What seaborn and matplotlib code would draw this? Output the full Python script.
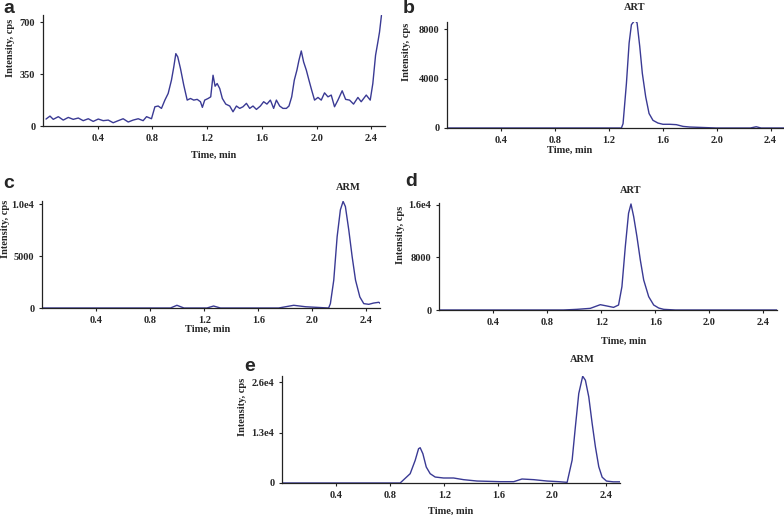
import matplotlib
matplotlib.use("Agg")
import matplotlib.pyplot as plt
import numpy as np
import pandas as pd
import seaborn as sns

# panel a - blank, noisy trace (time in min, intensity in cps)
a_time = [0.022, 0.051, 0.075, 0.112, 0.148, 0.185, 0.221, 0.258, 0.294, 0.331,
          0.367, 0.404, 0.440, 0.477, 0.513, 0.550, 0.586, 0.623, 0.659, 0.696,
          0.732, 0.757, 0.793, 0.818, 0.842, 0.866, 0.891, 0.915, 0.939, 0.956,
          0.971, 0.985, 1.005, 1.029, 1.054, 1.078, 1.102, 1.127, 1.151, 1.165,
          1.182, 1.207, 1.226, 1.243, 1.258, 1.273, 1.292, 1.311, 1.336, 1.365,
          1.389, 1.414, 1.438, 1.462, 1.487, 1.511, 1.535, 1.560, 1.589, 1.613,
          1.637, 1.662, 1.686, 1.706, 1.730, 1.754, 1.779, 1.798, 1.818, 1.837,
          1.856, 1.871, 1.888, 1.905, 1.925, 1.944, 1.964, 1.985, 2.010, 2.034,
          2.058, 2.083, 2.107, 2.131, 2.156, 2.187, 2.212, 2.241, 2.270, 2.302,
          2.326, 2.363, 2.392, 2.411, 2.431, 2.448, 2.460, 2.474]
a_int = [47, 67, 45, 63, 40, 58, 45, 54, 36, 49,
         31, 47, 36, 40, 22, 36, 49, 27, 40, 49,
         36, 63, 49, 130, 135, 119, 175, 220, 310, 399,
         489, 467, 388, 276, 175, 186, 175, 180, 164, 126,
         175, 186, 197, 343, 269, 287, 253, 186, 148, 135,
         96, 135, 119, 130, 153, 119, 135, 112, 135, 164,
         148, 175, 119, 175, 135, 119, 119, 135, 197, 310,
         377, 444, 507, 433, 377, 310, 242, 175, 193, 175,
         224, 197, 209, 130, 175, 238, 180, 175, 148, 193,
         164, 209, 175, 287, 478, 568, 635, 747]

# panel b - ART
b_time = [0.0, 0.4, 0.8, 1.2, 1.294, 1.306, 1.331, 1.351, 1.368, 1.393, 1.410,
          1.430, 1.449, 1.474, 1.499, 1.528, 1.565, 1.602, 1.652, 1.701, 1.751,
          1.800, 2.0, 2.25, 2.294, 2.33, 2.5]
b_int = [0, 0, 0, 0, 0, 350, 3600, 6860, 8350, 8700, 8500,
         6580, 4420, 2520, 1170, 620, 400, 300, 300, 270, 130,
         80, 0, 0, 100, 0, 0]

# panel c - ARM
c_time = [0.0, 0.4, 0.8, 0.95, 0.998, 1.05, 1.22, 1.269, 1.32, 1.75, 1.862,
          1.95, 2.12, 2.133, 2.158, 2.183, 2.207, 2.227, 2.244, 2.269, 2.294,
          2.319, 2.351, 2.380, 2.417, 2.454, 2.491, 2.504]
c_int = [0, 0, 0, 0, 260, 0, 0, 190, 0, 0, 260,
         120, 0, 420, 2680, 6870, 9450, 10260, 9770, 7520, 4940,
         2680, 1060, 420, 355, 480, 550, 420]

# panel d - ART
d_time = [0.0, 0.5, 0.92, 1.02, 1.119, 1.193, 1.242, 1.291, 1.328, 1.353, 1.378,
          1.402, 1.420, 1.440, 1.464, 1.489, 1.514, 1.551, 1.588, 1.625, 1.662,
          1.75, 2.2, 2.5]
d_int = [0, 0, 0, 100, 250, 810, 610, 400, 760, 3560, 9650,
         14730, 16150, 14220, 11180, 7620, 4570, 2030, 760, 300, 100,
         0, 0, 0]

# panel e - ART + ARM
e_time = [0.0, 0.4, 0.874, 0.948, 0.985, 1.010, 1.022, 1.042, 1.067, 1.096, 1.133,
          1.195, 1.269, 1.343, 1.442, 1.615, 1.714, 1.775, 1.862, 1.960, 2.047,
          2.109, 2.146, 2.170, 2.195, 2.224, 2.244, 2.269, 2.294, 2.318, 2.343,
          2.368, 2.400, 2.450, 2.500]
e_int = [0, 0, 0, 2400, 5830, 8840, 9100, 7550, 4120, 2400, 1540,
         1290, 1290, 860, 510, 340, 340, 1030, 860, 510, 340,
         170, 5920, 14500, 23080, 27540, 26510, 22220, 15360, 9350, 4200,
         1500, 500, 300, 300]

x_ticks = [0.4, 0.8, 1.2, 1.6, 2.0, 2.4]
x_ticklabels = ["0.4", "0.8", "1.2", "1.6", "2.0", "2.4"]

W, H = 784, 515
line_col = "#3a3a94"
serif = ["Liberation Serif", "DejaVu Serif"]

sns.set_style("ticks")
plt.rcParams["font.family"] = serif

fig = plt.figure(figsize=(W / 100, H / 100), dpi=100)


def px_axes(x0, top, width, bottom):
    return fig.add_axes([x0 / W, 1 - bottom / H, width / W, (bottom - top) / H])


panels = [
    # letter, time, intensity, axes px (x0, top, width, bottom), ymax, yticks, ylabels, label x/y coords
    ("a", a_time, a_int, (43, 15, 342, 126), 750, [0, 350, 700], ["0", "350", "700"], (-0.082, 0.70), (0.5, -0.22)),
    ("b", b_time, b_int, (447, 22, 337, 128), 8566, [0, 4000, 8000], ["0", "4000", "8000"], (-0.107, 0.72), (0.365, -0.17)),
    ("c", c_time, c_int, (42, 201, 338, 308), 10300, [0, 5000, 10000], ["0", "5000", "1.0e4"], (-0.094, 0.74), (0.49, -0.16)),
    ("d", d_time, d_int, (439, 203, 338, 310), 16300, [0, 8000, 16000], ["0", "8000", "1.6e4"], (-0.10, 0.70), (0.545, -0.25)),
    ("e", e_time, e_int, (282, 376, 338, 483), 27600, [0, 13000, 26000], ["0", "1.3e4", "2.6e4"], (-0.104, 0.71), (0.50, -0.22)),
]

letter_pos = {"a": (3, 0), "b": (403, 0), "c": (3, 175), "d": (405, 173), "e": (244, 358)}

for letter, t, y, (x0, top, width, bottom), ymax, yt, ytl, ylc, xlc in panels:
    ax = px_axes(x0, top, width, bottom)
    df = pd.DataFrame({"Time, min": t, "Intensity, cps": y})
    sns.lineplot(data=df, x="Time, min", y="Intensity, cps", ax=ax,
                 color=line_col, linewidth=1.0, sort=False, estimator=None)
    ax.set_xlim(0, 2.5)
    ax.set_ylim(0, ymax)
    ax.set_xticks(x_ticks)
    ax.set_xticklabels(x_ticklabels)
    ax.set_yticks(yt)
    ax.set_yticklabels(ytl)
    sns.despine(ax=ax)
    for s in ["left", "bottom"]:
        ax.spines[s].set_color("#222222")
        ax.spines[s].set_linewidth(0.9)
    ax.tick_params(axis="both", length=2.5, width=0.8, color="#222222", pad=3,
                   labelsize=7.5)
    for lab in ax.get_xticklabels() + ax.get_yticklabels():
        lab.set_fontweight("bold")
    ax.set_xlabel("Time, min", fontsize=7.5, fontweight="bold")
    ax.set_ylabel("Intensity, cps", fontsize=7.5, fontweight="bold")
    ax.yaxis.set_label_coords(*ylc)
    ax.xaxis.set_label_coords(*xlc)
    ax.set_facecolor("white")
    lx, ly = letter_pos[letter]
    fig.text(lx / W, 1 - ly / H, letter, ha="left", va="top", fontsize=14,
             fontweight="bold", family=["Liberation Sans", "DejaVu Sans"])

# compound labels above the peaks
peak_labels = [("ART", 635, 8), ("ARM", 348, 187), ("ART", 631, 190), ("ARM", 582, 360)]
for txt, px, py in peak_labels:
    fig.text(px / W, 1 - py / H, txt, ha="center", va="center", fontsize=7.5,
             fontweight="bold")

fig.savefig("out.png", dpi=100, facecolor="white")
